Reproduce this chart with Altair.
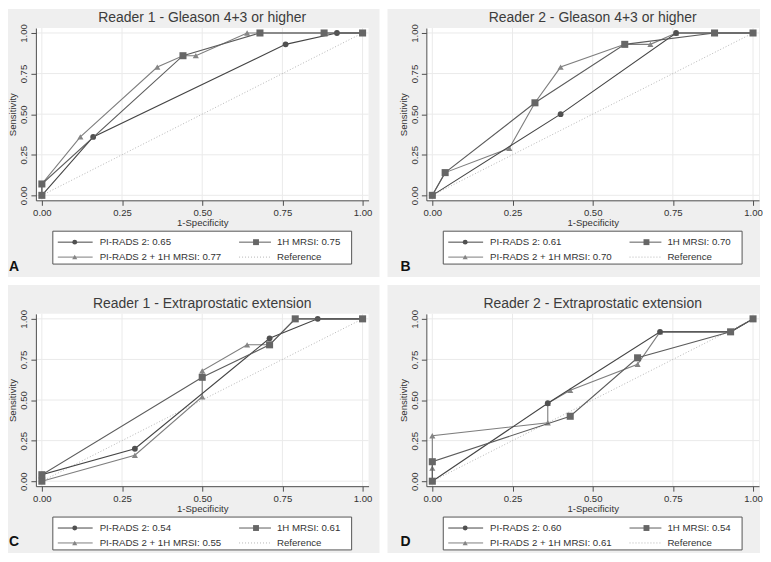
import altair as alt
import pandas as pd

FONT = "Liberation Sans"

series_names = ["PI-RADS 2", "1H MRSI", "PI-RADS 2 + 1H MRSI"]
panel_titles = [
    "Reader 1 - Gleason 4+3 or higher",
    "Reader 2 - Gleason 4+3 or higher",
    "Reader 1 - Extraprostatic extension",
    "Reader 2 - Extraprostatic extension",
]
panel_letters = ["A", "B", "C", "D"]
auc_values = [
    [0.65, 0.75, 0.77],
    [0.61, 0.70, 0.70],
    [0.54, 0.61, 0.55],
    [0.60, 0.54, 0.61],
]
ticks = [0.0, 0.25, 0.5, 0.75, 1.0]

# Panel A - Reader 1, Gleason 4+3 or higher
a_pirads_fpr = [0.0, 0.16, 0.76, 0.92, 1.0]
a_pirads_tpr = [0.0, 0.36, 0.93, 1.0, 1.0]
a_mrsi_fpr = [0.0, 0.0, 0.44, 0.68, 0.88, 1.0]
a_mrsi_tpr = [0.0, 0.07, 0.86, 1.0, 1.0, 1.0]
a_comb_fpr = [0.0, 0.0, 0.12, 0.36, 0.44, 0.48, 0.64, 1.0]
a_comb_tpr = [0.0, 0.07, 0.36, 0.79, 0.86, 0.86, 1.0, 1.0]

# Panel B - Reader 2, Gleason 4+3 or higher
b_pirads_fpr = [0.0, 0.40, 0.76, 1.0]
b_pirads_tpr = [0.0, 0.50, 1.0, 1.0]
b_mrsi_fpr = [0.0, 0.04, 0.32, 0.60, 0.88, 1.0]
b_mrsi_tpr = [0.0, 0.14, 0.57, 0.93, 1.0, 1.0]
b_comb_fpr = [0.0, 0.04, 0.24, 0.32, 0.40, 0.60, 0.68, 0.76, 0.88, 1.0]
b_comb_tpr = [0.0, 0.14, 0.29, 0.57, 0.79, 0.93, 0.93, 1.0, 1.0, 1.0]

# Panel C - Reader 1, Extraprostatic extension
c_pirads_fpr = [0.0, 0.0, 0.29, 0.71, 0.86, 1.0]
c_pirads_tpr = [0.0, 0.04, 0.20, 0.88, 1.0, 1.0]
c_mrsi_fpr = [0.0, 0.0, 0.50, 0.71, 0.79, 1.0]
c_mrsi_tpr = [0.0, 0.04, 0.64, 0.84, 1.0, 1.0]
c_comb_fpr = [0.0, 0.29, 0.50, 0.50, 0.64, 0.71, 0.79, 1.0]
c_comb_tpr = [0.0, 0.16, 0.52, 0.68, 0.84, 0.84, 1.0, 1.0]

# Panel D - Reader 2, Extraprostatic extension
d_pirads_fpr = [0.0, 0.36, 0.71, 0.93, 1.0]
d_pirads_tpr = [0.0, 0.48, 0.92, 0.92, 1.0]
d_mrsi_fpr = [0.0, 0.0, 0.43, 0.64, 0.93, 1.0]
d_mrsi_tpr = [0.0, 0.12, 0.40, 0.76, 0.92, 1.0]
d_comb_fpr = [0.0, 0.0, 0.0, 0.36, 0.36, 0.43, 0.64, 0.71, 0.93, 1.0]
d_comb_tpr = [0.0, 0.08, 0.28, 0.36, 0.48, 0.56, 0.72, 0.92, 0.92, 1.0]

reference_fpr = [0.0, 1.0]
reference_tpr = [0.0, 1.0]

panels_data = [
    [(a_pirads_fpr, a_pirads_tpr), (a_mrsi_fpr, a_mrsi_tpr), (a_comb_fpr, a_comb_tpr)],
    [(b_pirads_fpr, b_pirads_tpr), (b_mrsi_fpr, b_mrsi_tpr), (b_comb_fpr, b_comb_tpr)],
    [(c_pirads_fpr, c_pirads_tpr), (c_mrsi_fpr, c_mrsi_tpr), (c_comb_fpr, c_comb_tpr)],
    [(d_pirads_fpr, d_pirads_tpr), (d_mrsi_fpr, d_mrsi_tpr), (d_comb_fpr, d_comb_tpr)],
]

# styles
W, H = 334, 173
XDOM = [-6 / 322, 1 + 6 / 322]
YDOM = [-5 / 163, 1 + 5 / 163]
series_colors = ["#444444", "#5c5c5c", "#7e7e7e"]
marker_colors = ["#505050", "#666666", "#858585"]
series_shapes = ["circle", "square", "triangle-up"]
series_sizes = [34, 50, 38]
draw_order = [2, 0, 1]
PANEL_BG = "#efefef"
GRID = "#eaeaea"
REF = "#b5b5b5"
LABEL_FS = 9.6
LEGEND_FS = 9.7

one = pd.DataFrame({"k": [0]})


def xenc():
    return alt.X(
        "fpr:Q",
        scale=alt.Scale(domain=XDOM, nice=False, zero=False),
        axis=alt.Axis(values=ticks, format=".2f", title="1-Specificity", grid=False,
                      zindex=1, labelPadding=2, titlePadding=1),
    )


def yenc():
    return alt.Y(
        "tpr:Q",
        scale=alt.Scale(domain=YDOM, nice=False, zero=False),
        axis=alt.Axis(values=ticks, format=".2f", title="Sensitivity", grid=False,
                      zindex=1, labelAngle=270, labelAlign="center", labelBaseline="bottom",
                      labelPadding=2, titlePadding=1),
    )


def vrect(x1, x2, y1, y2, **kw):
    return alt.Chart(one).mark_rect(**kw).encode(
        x=alt.value(x1), x2=alt.value(x2), y=alt.value(y1), y2=alt.value(y2)
    )


def make_panel(i, rect_box, letter_pos):
    layers = []
    rx1, rx2, ry1, ry2 = rect_box
    layers.append(vrect(rx1, rx2, ry1, ry2, fill=PANEL_BG))
    layers.append(vrect(0, W, 0, H, fill="white"))
    # grid lines
    layers.append(
        alt.Chart(pd.DataFrame({"fpr": ticks})).mark_rule(color=GRID, strokeWidth=1).encode(x=xenc())
    )
    layers.append(
        alt.Chart(pd.DataFrame({"tpr": ticks})).mark_rule(color=GRID, strokeWidth=1).encode(y=yenc())
    )
    # reference diagonal
    layers.append(
        alt.Chart(pd.DataFrame({"fpr": reference_fpr, "tpr": reference_tpr}))
        .mark_line(color=REF, strokeWidth=1, strokeDash=[1, 2])
        .encode(x=xenc(), y=yenc())
    )
    for s in draw_order:
        fpr, tpr = panels_data[i][s]
        df = pd.DataFrame({"fpr": fpr, "tpr": tpr, "idx": list(range(len(fpr)))})
        layers.append(
            alt.Chart(df).mark_line(color=series_colors[s], strokeWidth=1.1)
            .encode(x=xenc(), y=yenc(), order="idx:Q")
        )
        layers.append(
            alt.Chart(df).mark_point(filled=True, shape=series_shapes[s], size=series_sizes[s],
                                     color=marker_colors[s], opacity=1)
            .encode(x=xenc(), y=yenc())
        )
    # legend
    lt = H + 31
    layers.append(vrect(17, 317, lt, lt + 33, fill="white", stroke="#555555", strokeWidth=1))
    row_y = [lt + 11, lt + 26]
    entries = [
        (0, 0, f"{series_names[0]}: {auc_values[i][0]:.2f}", 0),
        (1, 0, f"{series_names[1]}: {auc_values[i][1]:.2f}", 1),
        (0, 1, f"{series_names[2]}: {auc_values[i][2]:.2f}", 2),
        (1, 1, "Reference", None),
    ]
    cols = [(22, 57, 39, 64), (204, 236, 221, 242)]
    for col, row, label, s in entries:
        lx1, lx2, mx, tx = cols[col]
        y = row_y[row]
        if s is None:
            layers.append(
                alt.Chart(one).mark_rule(color=REF, strokeWidth=1, strokeDash=[1, 2])
                .encode(x=alt.value(lx1), x2=alt.value(lx2), y=alt.value(y))
            )
        else:
            layers.append(
                alt.Chart(one).mark_rule(color=series_colors[s], strokeWidth=1)
                .encode(x=alt.value(lx1), x2=alt.value(lx2), y=alt.value(y))
            )
            layers.append(
                alt.Chart(one).mark_point(filled=True, shape=series_shapes[s],
                                          size=series_sizes[s] * 0.7, color=marker_colors[s], opacity=1)
                .encode(x=alt.value(mx), y=alt.value(y))
            )
        layers.append(
            alt.Chart(one).mark_text(align="left", baseline="middle", font=FONT, fontSize=LEGEND_FS,
                                     color="#333333")
            .encode(x=alt.value(tx), y=alt.value(y), text=alt.value(label))
        )
    # title
    layers.append(
        alt.Chart(one).mark_text(align="center", baseline="middle", font=FONT, fontSize=14,
                                 color="#3c3c3c")
        .encode(x=alt.value(W / 2), y=alt.value(-10), text=alt.value(panel_titles[i]))
    )
    # panel letter
    layers.append(
        alt.Chart(one).mark_text(align="left", baseline="middle", font=FONT, fontSize=14,
                                 fontWeight="bold", color="#111111")
        .encode(x=alt.value(letter_pos[0]), y=alt.value(letter_pos[1]),
                text=alt.value(panel_letters[i]))
    )
    return alt.layer(*layers).properties(width=W, height=H)


pA = make_panel(0, (-28, 345, -19, H + 77), (-27, H + 67))
pB = make_panel(1, (-39, W + 1, -19, H + 77), (-26, H + 67))
pC = make_panel(2, (-28, 345, -29, H + 67), (-27, H + 56))
pD = make_panel(3, (-39, W + 1, -29, H + 67), (-26, H + 56))

chart = (
    alt.concat(pA, pB, pC, pD, columns=2, spacing={"row": 114, "column": 58}, bounds="flush")
    .properties(padding=0, background="white")
    .configure_view(stroke=None, fill=None)
    .configure_axis(
        domainColor="#4d4d4d",
        tickColor="#4d4d4d",
        tickSize=5,
        labelFont=FONT,
        labelFontSize=LABEL_FS,
        labelColor="#333333",
        titleFont=FONT,
        titleFontSize=LABEL_FS,
        titleFontWeight="normal",
        titleColor="#333333",
    )
)

chart.save("out.html", embed_options={"renderer": "svg", "actions": False})
